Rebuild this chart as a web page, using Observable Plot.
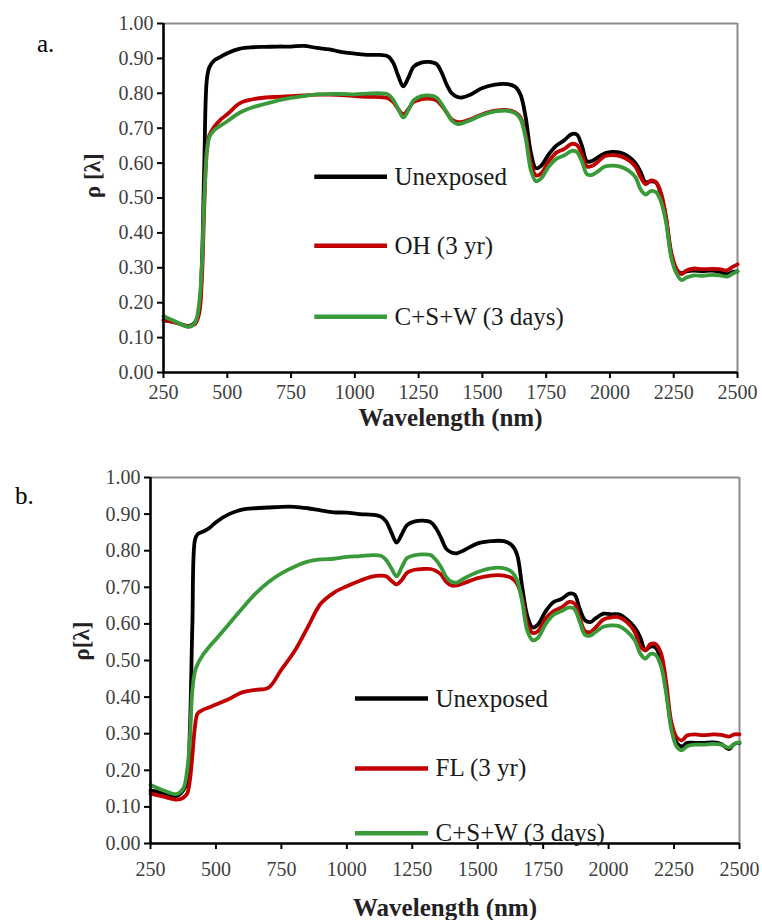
<!DOCTYPE html>
<html><head><meta charset="utf-8">
<script src="https://cdn.jsdelivr.net/npm/d3@7"></script>
<script src="https://cdn.jsdelivr.net/npm/@observablehq/plot@0.6"></script>
<style>
body{margin:0;background:#fff;}
#wrap{position:relative;width:762px;height:920px;font-family:"Liberation Serif","Times New Roman",serif;background:#fff;}
.panel{position:absolute;left:0;}
.panel text{font-family:"Liberation Serif","Times New Roman",serif;}
.tag{position:absolute;font-size:25px;line-height:25px;color:#000;font-family:"Liberation Serif",serif;}
</style></head><body><div id="wrap"></div>
<script>
// ---- data ----
const wavelengths = [250,300,350,375,390,400,410,420,430,450,475,500,550,600,650,700,750,800,850,900,950,1000,1050,1100,1130,1150,1170,1190,1210,1230,1260,1290,1320,1340,1360,1380,1400,1420,1450,1500,1550,1600,1630,1650,1670,1690,1710,1730,1760,1790,1820,1850,1870,1890,1910,1930,1950,1980,2010,2040,2070,2100,2120,2140,2160,2180,2200,2220,2240,2260,2280,2300,2330,2360,2400,2430,2460,2480,2500];
const xTicks = [250,500,750,1000,1250,1500,1750,2000,2250,2500];
const yTicks = [0,0.1,0.2,0.3,0.4,0.5,0.6,0.7,0.8,0.9,1.0];

const namesA = ["Unexposed","OH (3 yr)","C+S+W (3 days)"];
const namesB = ["Unexposed","FL (3 yr)","C+S+W (3 days)"];

const unexposedA = [0.150,0.143,0.133,0.145,0.180,0.300,0.600,0.840,0.875,0.895,0.905,0.915,0.928,0.932,0.933,0.934,0.934,0.936,0.930,0.926,0.918,0.914,0.910,0.910,0.906,0.888,0.850,0.820,0.845,0.876,0.888,0.890,0.884,0.860,0.825,0.800,0.790,0.788,0.795,0.815,0.825,0.826,0.818,0.795,0.730,0.630,0.585,0.592,0.625,0.650,0.665,0.683,0.682,0.650,0.605,0.606,0.615,0.628,0.632,0.630,0.620,0.600,0.575,0.545,0.548,0.545,0.510,0.440,0.340,0.295,0.285,0.290,0.292,0.290,0.292,0.288,0.282,0.288,0.290];
const ohA = [0.150,0.143,0.132,0.140,0.170,0.260,0.480,0.640,0.680,0.705,0.725,0.740,0.772,0.783,0.788,0.790,0.792,0.794,0.796,0.796,0.795,0.792,0.790,0.789,0.786,0.775,0.755,0.740,0.755,0.775,0.783,0.785,0.780,0.765,0.745,0.725,0.718,0.718,0.725,0.740,0.750,0.752,0.745,0.730,0.680,0.600,0.565,0.570,0.605,0.630,0.640,0.655,0.652,0.625,0.590,0.592,0.602,0.620,0.623,0.620,0.610,0.590,0.560,0.540,0.550,0.545,0.515,0.445,0.345,0.298,0.282,0.292,0.298,0.296,0.297,0.296,0.293,0.302,0.310];
const cswA = [0.162,0.145,0.131,0.145,0.200,0.300,0.500,0.630,0.675,0.695,0.708,0.720,0.745,0.760,0.770,0.780,0.787,0.792,0.797,0.798,0.798,0.797,0.799,0.800,0.797,0.782,0.755,0.731,0.752,0.780,0.792,0.794,0.788,0.770,0.745,0.722,0.712,0.714,0.722,0.738,0.748,0.750,0.742,0.725,0.670,0.580,0.548,0.556,0.590,0.612,0.622,0.635,0.632,0.605,0.568,0.566,0.575,0.590,0.593,0.590,0.580,0.560,0.525,0.510,0.520,0.517,0.490,0.430,0.330,0.285,0.265,0.272,0.278,0.277,0.280,0.278,0.275,0.283,0.290];

const unexposedB = [0.145,0.138,0.130,0.145,0.170,0.300,0.600,0.830,0.845,0.852,0.862,0.878,0.900,0.912,0.916,0.918,0.920,0.920,0.916,0.910,0.905,0.904,0.900,0.898,0.893,0.880,0.850,0.822,0.845,0.870,0.880,0.882,0.878,0.862,0.835,0.805,0.795,0.793,0.802,0.820,0.826,0.826,0.815,0.790,0.700,0.620,0.590,0.598,0.635,0.660,0.668,0.683,0.680,0.640,0.610,0.605,0.615,0.628,0.626,0.626,0.612,0.590,0.565,0.528,0.538,0.535,0.500,0.420,0.320,0.275,0.265,0.275,0.275,0.275,0.276,0.272,0.258,0.272,0.275];
const flB = [0.136,0.128,0.120,0.125,0.136,0.170,0.240,0.320,0.355,0.365,0.372,0.380,0.395,0.413,0.420,0.425,0.475,0.525,0.590,0.655,0.685,0.703,0.718,0.730,0.732,0.730,0.718,0.708,0.720,0.740,0.748,0.750,0.750,0.745,0.735,0.715,0.705,0.705,0.712,0.725,0.732,0.732,0.725,0.710,0.670,0.600,0.575,0.580,0.615,0.635,0.645,0.660,0.655,0.615,0.580,0.578,0.590,0.612,0.618,0.618,0.605,0.578,0.540,0.528,0.545,0.545,0.520,0.440,0.330,0.290,0.282,0.295,0.298,0.296,0.298,0.297,0.292,0.298,0.298];
const cswB = [0.160,0.145,0.135,0.150,0.200,0.280,0.420,0.470,0.490,0.515,0.538,0.558,0.600,0.642,0.682,0.714,0.738,0.756,0.770,0.776,0.778,0.783,0.785,0.788,0.786,0.775,0.752,0.730,0.755,0.780,0.788,0.790,0.788,0.775,0.755,0.728,0.715,0.713,0.725,0.742,0.752,0.752,0.742,0.720,0.660,0.580,0.555,0.562,0.600,0.625,0.635,0.645,0.640,0.605,0.570,0.568,0.578,0.592,0.596,0.594,0.580,0.555,0.520,0.505,0.518,0.515,0.485,0.410,0.310,0.265,0.255,0.266,0.270,0.270,0.272,0.270,0.262,0.272,0.277];

// ---- styles / layout ----
const seriesColors = ["#000000","#c00000","#3a9a3a"];
const fontFam = "Liberation Serif, Times New Roman, serif";

function panel(cfg){
  const {names, values, H, mt, mb, ml, mr, legX1, legX2, legY, yTitle, yTitleDx, xTitleDy, xPad} = cfg;
  const lines = values.map((vals, k) => Plot.lineY(
    wavelengths.map((w, i) => ({w, v: vals[i]})),
    {x: "w", y: "v", stroke: seriesColors[k], strokeWidth: 3.8, curve: "catmull-rom", strokeLinejoin: "round", strokeLinecap: "round"}
  ));
  const legend = names.flatMap((n, k) => [
    Plot.ruleY([legY[k]], {x1: legX1, x2: legX2, stroke: seriesColors[k], strokeWidth: 4.5}),
    Plot.text([n], {x: legX2, y: legY[k], dx: 7, textAnchor: "start", fontSize: 25, fill: "#1a1a1a", fontFamily: fontFam})
  ]);
  return Plot.plot({
    width: 762, height: H,
    marginTop: mt, marginBottom: mb, marginLeft: ml, marginRight: mr,
    x: {domain: [250, 2500]},
    y: {domain: [0, 1]},
    style: {fontFamily: fontFam, background: "transparent", overflow: "visible"},
    marks: [
      Plot.ruleY([1], {stroke: "#8c8c8c", strokeWidth: 2}),
      Plot.ruleX([2500], {stroke: "#8c8c8c", strokeWidth: 2}),
      ...lines,
      Plot.ruleX([250], {stroke: "#000", strokeWidth: 2.6}),
      Plot.ruleY([0], {stroke: "#000", strokeWidth: 2.6}),
      Plot.axisY({ticks: yTicks, tickFormat: d => d.toFixed(2), tickSize: 6, tickPadding: 4, stroke: "#000", strokeWidth: 2, fill: "#404040", fontSize: 20, fontFamily: fontFam, label: null}),
      Plot.axisX({ticks: xTicks, tickFormat: d => String(d), tickSize: 6, tickPadding: xPad, stroke: "#000", strokeWidth: 2, fill: "#404040", fontSize: 20, fontFamily: fontFam, label: null}),
      ...legend,
      Plot.text([yTitle], {frameAnchor: "left", dx: yTitleDx, rotate: -90, fontSize: 23, fontWeight: "bold", fill: "#222", fontFamily: fontFam}),
      Plot.text(["Wavelength (nm)"], {frameAnchor: "bottom", dy: xTitleDy, fontSize: 25, fontWeight: "bold", fill: "#222", fontFamily: fontFam})
    ]
  });
}

const wrap = document.getElementById("wrap");

const a = panel({names: namesA, values: [unexposedA, ohA, cswA], H: 450, mt: 23, mb: 78, ml: 163, mr: 25,
  legX1: 843, legX2: 1128, legY: [0.561, 0.363, 0.160], yTitle: "ρ [λ]", yTitleDx: -71, xTitleDy: 53, xPad: 6});
a.classList.add("panel"); a.style.top = "0px";
wrap.appendChild(a);

const b = panel({names: namesB, values: [unexposedB, flB, cswB], H: 470, mt: 27, mb: 77, ml: 150, mr: 23,
  legX1: 1033, legX2: 1312, legY: [0.396, 0.205, 0.028], yTitle: "ρ[λ]", yTitleDx: -69, xTitleDy: 72, xPad: 12});
b.classList.add("panel"); b.style.top = "450px";
wrap.appendChild(b);

const ta = document.createElement("div"); ta.className = "tag"; ta.textContent = "a."; ta.style.left = "37px"; ta.style.top = "31px"; wrap.appendChild(ta);
const tb = document.createElement("div"); tb.className = "tag"; tb.textContent = "b."; tb.style.left = "15px"; tb.style.top = "483px"; wrap.appendChild(tb);
</script></body></html>
